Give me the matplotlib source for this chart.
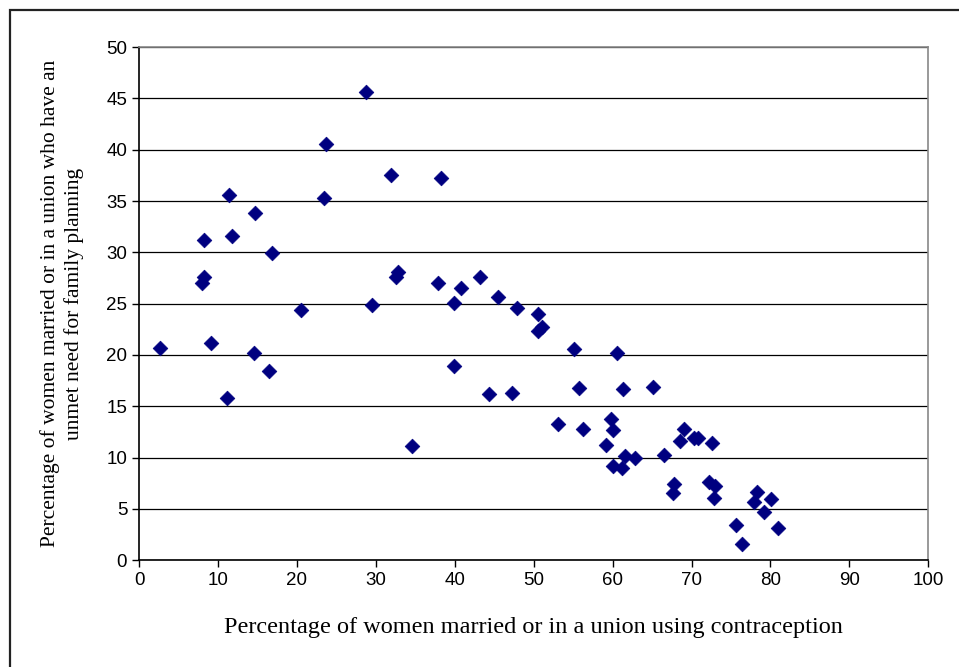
import numpy as np
import matplotlib.pyplot as plt
from matplotlib.patches import Rectangle

# contraception use (%) vs unmet need for family planning (%)
contraception = [2.7, 8.0, 8.2, 8.2, 9.1, 11.2, 11.4, 11.8, 14.6, 14.7,
                 16.5, 16.9, 20.5, 23.4, 23.7, 28.8, 29.5, 31.9, 32.5, 32.8,
                 34.6, 37.9, 38.3, 39.9, 39.9, 40.8, 43.2, 44.3, 45.5, 47.3,
                 47.9, 50.6, 50.6, 51.0, 53.1, 55.1, 55.8, 56.3, 59.1, 59.8,
                 60.1, 60.0, 60.5, 61.2, 61.3, 61.6, 62.8, 65.1, 66.5, 67.6,
                 67.8, 68.6, 69.0, 70.3, 70.8, 72.2, 72.6, 72.8, 73.0, 75.6,
                 76.4, 77.9, 78.3, 79.2, 80.1, 80.9]
unmet_need = [20.7, 27.0, 27.6, 31.2, 21.2, 15.8, 35.6, 31.6, 20.2, 33.8,
              18.4, 29.9, 24.4, 35.3, 40.6, 45.6, 24.9, 37.5, 27.6, 28.1,
              11.1, 27.0, 37.2, 25.1, 18.9, 26.5, 27.6, 16.2, 25.6, 16.3,
              24.6, 24.0, 22.3, 22.7, 13.3, 20.6, 16.8, 12.8, 11.2, 13.8,
              12.7, 9.2, 20.2, 9.0, 16.7, 10.2, 10.0, 16.9, 10.3, 6.6,
              7.4, 11.6, 12.8, 11.9, 11.9, 7.6, 11.4, 6.1, 7.2, 3.4,
              1.6, 5.7, 6.7, 4.7, 6.0, 3.1]

xticks = np.arange(0, 101, 10)
yticks = np.arange(0, 51, 5)

fig = plt.figure(figsize=(9.59, 6.67), dpi=100)
ax = fig.add_axes([0.145, 0.160, 0.823, 0.7695])

# outer chart border (only left and top edges fall inside the image)
fig.patches.append(Rectangle((0.0105, -0.05), 1.1, 1.035, transform=fig.transFigure,
                             fill=False, edgecolor='#222222', linewidth=1.6))

ax.scatter(contraception, unmet_need, marker='D', s=56, color='#000080',
           edgecolors='#000080', linewidths=0.5, zorder=3)

ax.set_xlim(0, 100)
ax.set_ylim(0, 50)
ax.set_xticks(xticks)
ax.set_yticks(yticks)
ax.tick_params(direction='out', length=5, width=1, labelsize=13.5, color='black')
for lab in ax.get_xticklabels() + ax.get_yticklabels():
    lab.set_family('Liberation Sans')

ax.yaxis.grid(True, color='black', linewidth=0.9)
ax.set_axisbelow(True)
ax.spines['left'].set_color('black')
ax.spines['bottom'].set_color('black')
ax.spines['top'].set_color('#888888')
ax.spines['right'].set_color('#888888')
for s in ax.spines.values():
    s.set_linewidth(1.2)

ax.set_xlabel('Percentage of women married or in a union using contraception',
              family='Liberation Serif', fontsize=17.5, labelpad=20)
ax.set_ylabel('Percentage of women married or in a union who have an\nunmet need for family planning',
              family='Liberation Serif', fontsize=15.5, labelpad=16, linespacing=1.3)

fig.savefig('out.png', dpi=100)
